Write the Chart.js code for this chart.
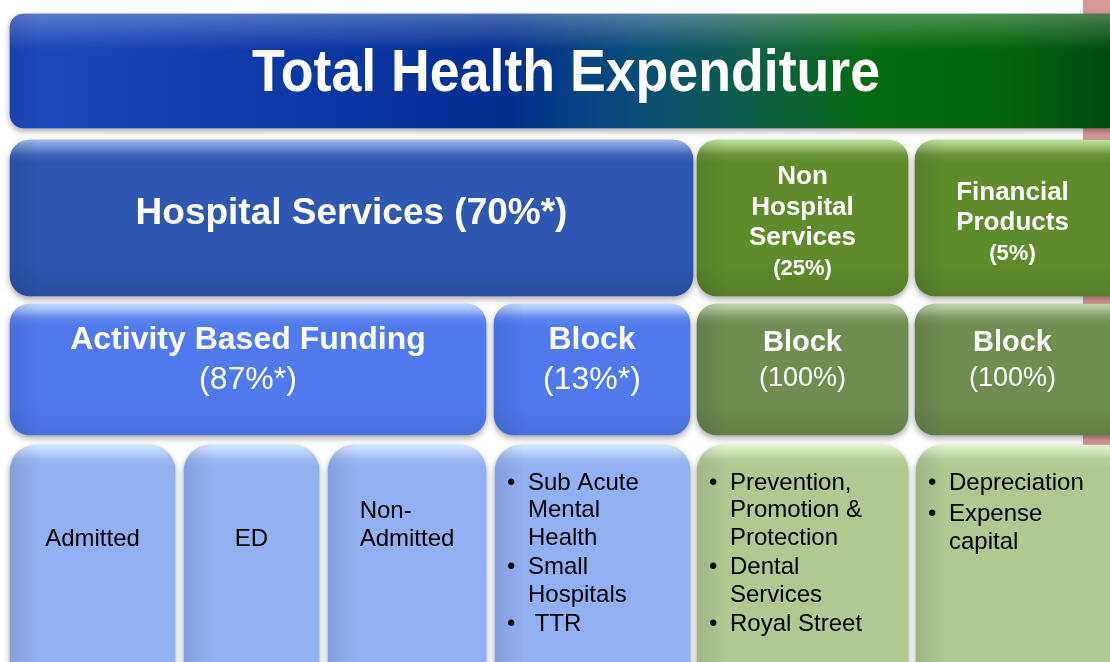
<!DOCTYPE html>
<html>
<head>
<meta charset="utf-8">
<script src="https://cdn.jsdelivr.net/npm/chart.js@4.4.1/dist/chart.umd.min.js"></script>
<style>
html, body { margin: 0; padding: 0; background: #fff; overflow: hidden; }
</style>
</head>
<body>
<canvas id="mycanvas" width="1110" height="662"></canvas>
<script>
// text and shares
var titleLabel = 'Total Health Expenditure';
var level1Labels = ['Hospital Services', 'Non Hospital Services', 'Financial Products'];
var level1Shares = ['70%*', '25%', '5%'];
var level2Labels = ['Activity Based Funding', 'Block', 'Block', 'Block'];
var level2Shares = ['87%*', '13%*', '100%', '100%'];
var level3Items = [
	['Admitted'], ['ED'], ['Non-Admitted'],
	['Sub Acute Mental Health', 'Small Hospitals', ' TTR'],
	['Prevention, Promotion & Protection', 'Dental Services', 'Royal Street'],
	['Depreciation', 'Expense capital']
];

// box placement (layout units = canvas pixels on hidden linear axes)
var rows = [
	{ y: [14, 128], x: [[10, 1140]], radius: 14 },
	{ y: [140, 296], x: [[10, 693], [697, 908], [915, 1140]], radius: 20 },
	{ y: [304, 435], x: [[10, 486], [494, 690], [697, 908], [915, 1140]], radius: 20 },
	{ y: [445, 705], x: [[10, 175], [184, 319], [328, 486], [495, 690], [697, 908], [916, 1140]], radius: 26 }
];

var FONT = "'Liberation Sans', Arial, Helvetica, sans-serif";

// light top, body, bottom colours of each box style
var palette = {
	hosp:   ['#709ce8', '#2e57b1', '#294d9f'],
	green1: ['#a6d672', '#5e8c2b', '#557e27'],
	blue2:  ['#abd0ff', '#4f7aee', '#4970dc'],
	green2: ['#a9c68c', '#6f8d4f', '#647f47'],
	blue3:  ['#c6deff', '#92b1f2', '#8aa8e8'],
	green3: ['#dcefc0', '#b1c990', '#a7bf88']
};
var rowStyles = [
	['title'],
	['hosp', 'green1', 'green1'],
	['blue2', 'blue2', 'green2', 'green2'],
	['blue3', 'blue3', 'blue3', 'blue3', 'green3', 'green3']
];

function boxFill(c) {
	var chart = c.chart;
	var raw = c.raw;
	if (!raw || !chart.chartArea) return '#2e57b1';
	var ds = chart.data.datasets[c.datasetIndex];
	var ys = chart.scales.y, xs = chart.scales.x;
	var top = ys.getPixelForValue(raw.y - ds.barThickness / 2);
	var bottom = ys.getPixelForValue(raw.y + ds.barThickness / 2);
	var ctx = chart.ctx;
	var style = rowStyles[c.datasetIndex][c.dataIndex];
	var g;
	if (style === 'title') {
		g = ctx.createLinearGradient(xs.getPixelForValue(raw.x[0]), 0, chart.chartArea.right, 0);
		g.addColorStop(0, '#1c48bc');
		g.addColorStop(0.3, '#0a36a2');
		g.addColorStop(0.45, '#032f90');
		g.addColorStop(0.57, '#0b4d78');
		g.addColorStop(0.68, '#0e5e45');
		g.addColorStop(0.78, '#086a12');
		g.addColorStop(0.9, '#03640a');
		g.addColorStop(1, '#004c10');
		return g;
	}
	var p = palette[style];
	var h = bottom - top;
	g = ctx.createLinearGradient(0, top, 0, bottom);
	g.addColorStop(0, p[0]);
	g.addColorStop(Math.min(0.5, 14 / h), p[1]);
	g.addColorStop(Math.max(0.5, 1 - 30 / h), p[1]);
	g.addColorStop(1, p[2]);
	return g;
}

function rowData(r, labels, extra) {
	var row = rows[r];
	return row.x.map(function(xr, i) {
		return { x: xr, y: (row.y[0] + row.y[1]) / 2, label: labels[i], share: extra ? extra[i] : null };
	});
}

var datasets = [
	rowData(0, [titleLabel]),
	rowData(1, level1Labels, level1Shares),
	rowData(2, level2Labels, level2Shares),
	rowData(3, level3Items)
].map(function(d, r) {
	var rad = rows[r].radius;
	return {
		data: d,
		stack: 'boxes',
		barThickness: rows[r].y[1] - rows[r].y[0],
		borderSkipped: false,
		borderWidth: 0,
		borderRadius: { topLeft: rad, topRight: rad, bottomLeft: rad, bottomRight: rad },
		backgroundColor: boxFill
	};
});

function roundPath(ctx, l, t, w, h, r) {
	ctx.beginPath();
	ctx.moveTo(l + r, t);
	ctx.arcTo(l + w, t, l + w, t + h, r);
	ctx.arcTo(l + w, t + h, l, t + h, r);
	ctx.arcTo(l, t + h, l, t, r);
	ctx.arcTo(l, t, l + w, t, r);
	ctx.closePath();
}

function wrap(ctx, text, maxW) {
	var parts = text.replace(/-/g, '- ').split(' ');
	var lines = [], cur = '';
	parts.forEach(function(p, k) {
		if (p === '' && k === 0) { cur = ' '; return; }
		var joiner = (cur === '' || cur === ' ' || /-$/.test(cur)) ? '' : ' ';
		var test = cur + joiner + p;
		if (cur.trim() !== '' && ctx.measureText(test).width > maxW) {
			lines.push(cur);
			cur = p;
		} else {
			cur = test;
		}
	});
	if (cur !== '') lines.push(cur);
	return lines;
}

var boxPlugin = {
	id: 'boxes',
	beforeDraw: function(chart) {
		var ctx = chart.ctx;
		ctx.save();
		ctx.fillStyle = '#ffffff';
		ctx.fillRect(0, 0, chart.width, chart.height);
		ctx.fillStyle = '#d89898';
		ctx.fillRect(1083, 0, 27, 470);
		ctx.restore();
	},
	beforeDatasetsDraw: function(chart) {
		var ctx = chart.ctx;
		ctx.save();
		ctx.shadowColor = 'rgba(0,0,0,0.35)';
		ctx.shadowBlur = 6;
		ctx.shadowOffsetY = 3;
	},
	afterDatasetsDraw: function(chart) {
		var ctx = chart.ctx;
		ctx.restore();
		chart.data.datasets.forEach(function(ds, r) {
			var meta = chart.getDatasetMeta(r);
			meta.data.forEach(function(el, i) {
				var left = Math.min(el.x, el.base), right = Math.max(el.x, el.base);
				var top = el.y - el.height / 2, h = el.height, w = right - left;
				var rad = rows[r].radius;
				ctx.save();
				roundPath(ctx, left, top, w, h, rad);
				ctx.clip();
				// glossy top band
				var g = ctx.createLinearGradient(0, top, 0, top + (r === 0 ? 36 : 22));
				g.addColorStop(0, 'rgba(255,255,255,0.28)');
				g.addColorStop(1, 'rgba(255,255,255,0)');
				ctx.fillStyle = g;
				ctx.fillRect(left, top, w, 40);
				// soft darker left bevel
				var sg = ctx.createLinearGradient(left, 0, left + 30, 0);
				sg.addColorStop(0, 'rgba(0,0,40,0.10)');
				sg.addColorStop(1, 'rgba(0,0,40,0)');
				ctx.fillStyle = sg;
				ctx.fillRect(left, top, 30, h);
				ctx.restore();
				drawText(ctx, chart, r, i, el, left, right, top, h);
			});
		});
	}
};

function drawText(ctx, chart, r, i, el, left, right, top, h) {
	var raw = chart.data.datasets[r].data[i];
	var cx = (left + Math.min(right, chart.chartArea.right)) / 2;
	ctx.save();
	ctx.textBaseline = 'middle';
	ctx.textAlign = 'center';
	ctx.fillStyle = '#ffffff';
	if (r === 0) {
		ctx.font = 'bold 60px ' + FONT;
		ctx.fillText(raw.label, cx + 6, top + 60, 628);
	} else if (r === 1) {
		if (right - left > 400) {
			ctx.font = 'bold 37px ' + FONT;
			ctx.fillText(raw.label + ' (' + raw.share + ')', cx, top + h / 2 - 4);
		} else {
			ctx.font = 'bold 26px ' + FONT;
			var lines = wrap(ctx, raw.label, 130);
			var lh = 30.5;
			var y0 = top + h / 2 + 5 - (lines.length) * lh / 2;
			lines.forEach(function(t, k) { ctx.fillText(t, cx, y0 + k * lh); });
			ctx.font = 'bold 22px ' + FONT;
			ctx.fillText('(' + raw.share + ')', cx, y0 + lines.length * lh);
		}
	} else if (r === 2) {
		var blue = i < 2;
		ctx.font = 'bold ' + (blue ? 32 : 29) + 'px ' + FONT;
		ctx.fillText(raw.label, cx, top + (blue ? 36 : 39));
		ctx.font = (blue ? 32 : 27) + 'px ' + FONT;
		ctx.fillText('(' + raw.share + ')', cx, top + (blue ? 76 : 75));
	} else {
		ctx.fillStyle = '#000000';
		ctx.font = '24px ' + FONT;
		var items = raw.label;
		if (items.length === 1) {
			var ls = wrap(ctx, items[0], 110);
			var mw = Math.max.apply(null, ls.map(function(t) { return ctx.measureText(t).width; }));
			ctx.textAlign = 'left';
			ls.forEach(function(t, k) {
				ctx.fillText(t, cx - mw / 2, 539 - (ls.length - 1 - k) * 28);
			});
		} else {
			ctx.textAlign = 'left';
			var y = top + 38;
			var gap = i === 5 ? 4 : 1.5;
			items.forEach(function(item) {
				var ls2 = wrap(ctx, item, 145);
				ctx.fillText('\u2022', left + 12, y);
				ls2.forEach(function(t) {
					ctx.fillText(t, left + 33, y);
					y += 27.6;
				});
				y += gap;
			});
		}
	}
	ctx.restore();
}

var ctx = document.getElementById('mycanvas');
var boxChart = new Chart(ctx, {
	type: 'bar',
	data: { datasets: datasets },
	options: {
		indexAxis: 'y',
		responsive: false,
		animation: false,
		events: [],
		layout: { padding: 0 },
		plugins: { legend: { display: false }, tooltip: { enabled: false } },
		scales: {
			x: { type: 'linear', display: false, min: 0, max: 1110, stacked: false, offset: false },
			y: { type: 'linear', display: false, min: 0, max: 662, reverse: true, offset: false }
		}
	},
	plugins: [boxPlugin]
});
</script>
</body>
</html>
